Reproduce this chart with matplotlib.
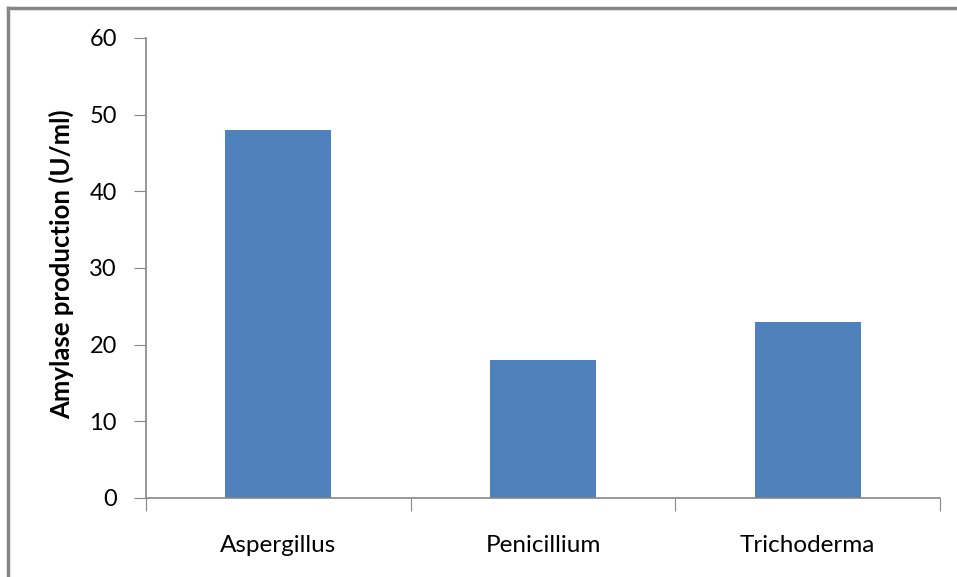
import matplotlib
matplotlib.use("Agg")
import matplotlib.pyplot as plt
from matplotlib.lines import Line2D

categories = ["Aspergillus", "Penicillium", "Trichoderma"]
amylase = [48, 18, 23]
y_ticks = [0, 10, 20, 30, 40, 50, 60]

plt.rcParams["font.family"] = ["Lato", "DejaVu Sans"]
axis_grey = "#868686"

fig = plt.figure(figsize=(9.57, 5.77), dpi=100)
ax = fig.add_axes([146 / 957, 1 - 498 / 577, (940 - 146) / 957, (498 - 38) / 577])

x = range(len(categories))
ax.bar(x, amylase, width=0.4, color="#4f81bd", zorder=2)

ax.set_xlim(-0.5, len(categories) - 0.5)
ax.set_ylim(0, 60)
ax.set_yticks(y_ticks)
ax.tick_params(axis="y", labelsize=17, length=9, color=axis_grey, pad=12)

# category labels between boundary ticks, like a spreadsheet chart
ax.set_xticks([i + 0.5 for i in range(-1, len(categories))])
ax.set_xticklabels([])
ax.set_xticks(list(x), minor=True)
ax.set_xticklabels(categories, minor=True, fontsize=17.5)
ax.tick_params(axis="x", which="major", length=9, color=axis_grey)
ax.tick_params(axis="x", which="minor", length=0, pad=27)

for side in ["top", "right"]:
    ax.spines[side].set_visible(False)
for side in ["left", "bottom"]:
    ax.spines[side].set_color(axis_grey)
    ax.spines[side].set_linewidth(1.2)

ax.set_ylabel("Amylase production (U/ml)", fontsize=18.5, fontweight="bold")
ax.yaxis.set_label_coords(-0.091, 0.508)

# outer chart frame (only top and left edges show)
fig.add_artist(Line2D([8 / 957, 8 / 957], [0, 1 - 8 / 577], color=axis_grey, lw=2.5))
fig.add_artist(Line2D([8 / 957, 1], [1 - 8 / 577, 1 - 8 / 577], color=axis_grey, lw=2.5))

fig.savefig("out.png", dpi=100)
